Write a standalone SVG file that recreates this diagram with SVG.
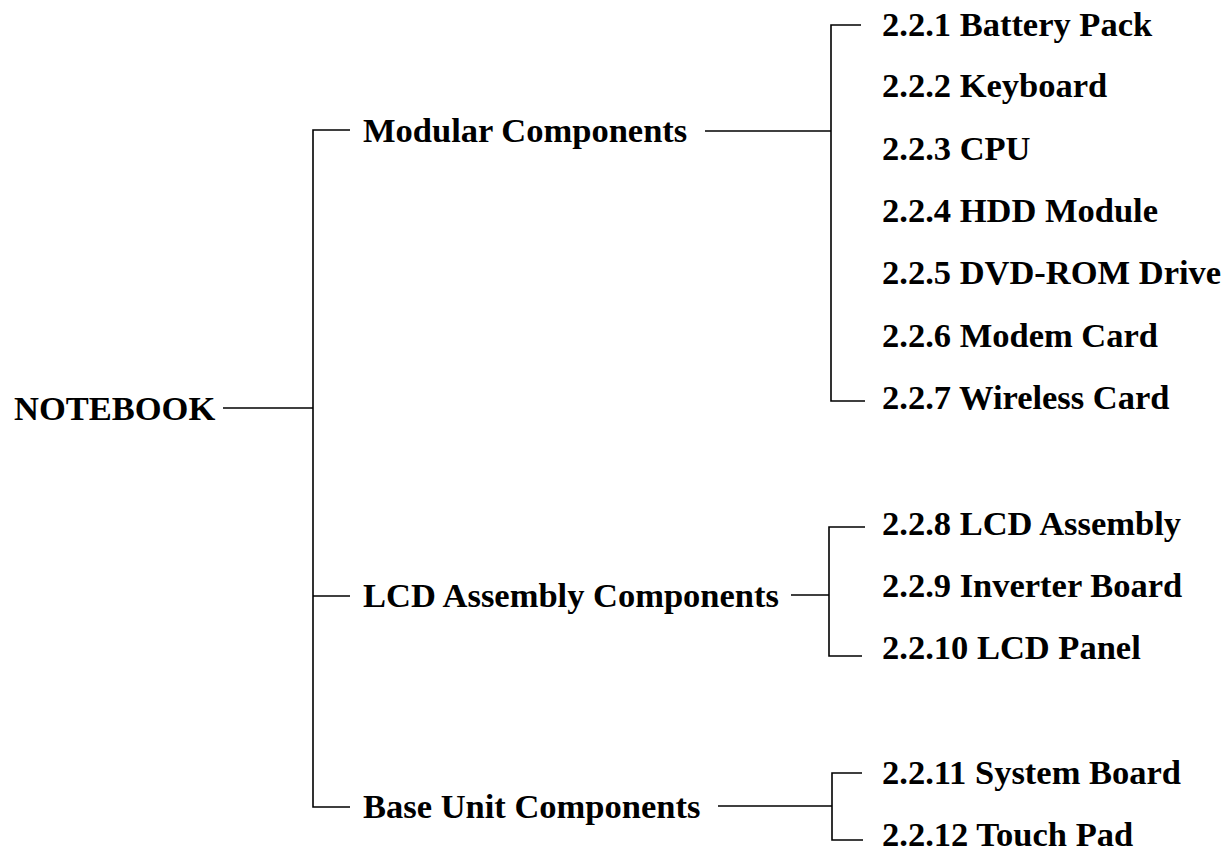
<svg xmlns="http://www.w3.org/2000/svg" width="1227" height="851" viewBox="0 0 1227 851">
<style>
text{font-family:"Liberation Serif","Times New Roman",serif;font-weight:bold;font-size:34.5px;fill:#000}
.c{stroke:#000;stroke-width:1.6;fill:none}
</style>
<rect width="1227" height="851" fill="#fff"/>
<g id="connectors">
<path class="c" d="M223,408 H313"/>
<path class="c" d="M350,130 H313 V807 H350"/>
<path class="c" d="M313,596 H350"/>
<path class="c" d="M705,131 H831"/>
<path class="c" d="M861,25 H831 V401 H865"/>
<path class="c" d="M791,595 H829"/>
<path class="c" d="M865,527 H829 V656 H862"/>
<path class="c" d="M718,806 H832"/>
<path class="c" d="M862,773 H832 V840 H863"/>
</g>
<g id="notebook"><text x="14" y="420">NOTEBOOK</text></g>
<g id="modular"><text x="363" y="142">Modular Components</text></g>
<g id="lcd"><text x="363" y="607">LCD Assembly Components</text></g>
<g id="base"><text x="363" y="818">Base Unit Components</text></g>
<g id="n221"><text x="882" y="36">2.2.1 Battery Pack</text></g>
<g id="n222"><text x="882" y="97">2.2.2 Keyboard</text></g>
<g id="n223"><text x="882" y="160">2.2.3 CPU</text></g>
<g id="n224"><text x="882" y="222">2.2.4 HDD Module</text></g>
<g id="n225"><text x="882" y="284">2.2.5 DVD-ROM Drive</text></g>
<g id="n226"><text x="882" y="347">2.2.6 Modem Card</text></g>
<g id="n227"><text x="882" y="409">2.2.7 Wireless Card</text></g>
<g id="n228"><text x="882" y="535">2.2.8 LCD Assembly</text></g>
<g id="n229"><text x="882" y="597">2.2.9 Inverter Board</text></g>
<g id="n2210"><text x="882" y="659">2.2.10 LCD Panel</text></g>
<g id="n2211"><text x="882" y="784">2.2.11 System Board</text></g>
<g id="n2212"><text x="882" y="846">2.2.12 Touch Pad</text></g>
</svg>
